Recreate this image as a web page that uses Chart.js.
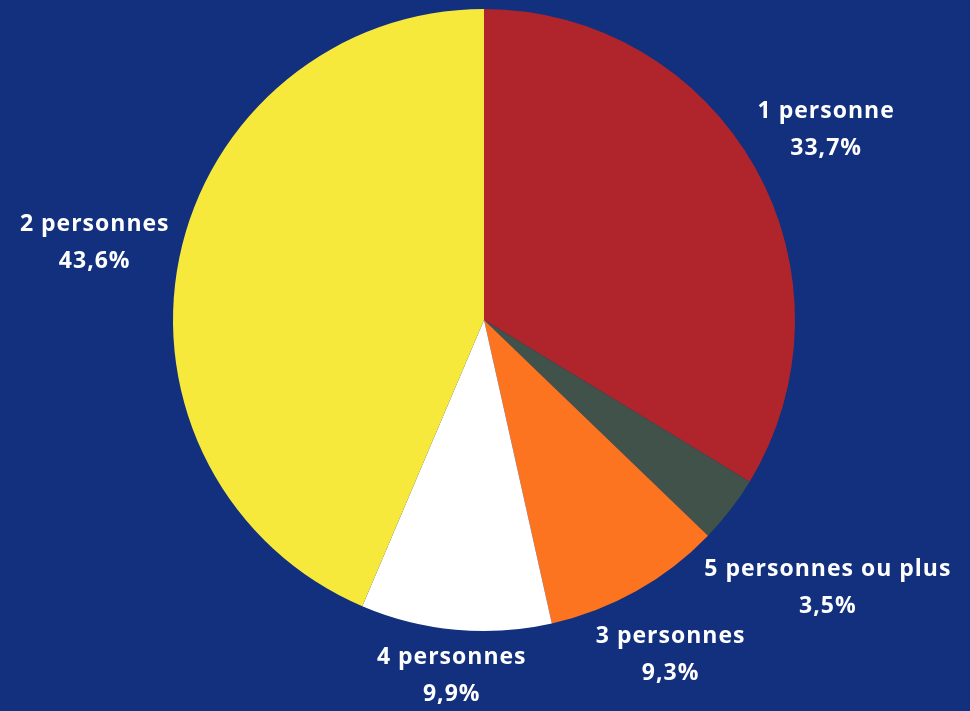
<!DOCTYPE html>
<html>
<head>
<meta charset="utf-8">
<script src="https://cdn.jsdelivr.net/npm/chart.js@4"></script>
<style>
  html, body { margin: 0; padding: 0; background: #12307e; }
  #wrap { width: 970px; height: 711px; position: relative; }
</style>
</head>
<body>
<div id="wrap"><canvas id="pieChart"></canvas></div>
<script>
const categories = ['1 personne', '5 personnes ou plus', '3 personnes', '4 personnes', '2 personnes'];
const shares = [33.7, 3.5, 9.3, 9.9, 43.6];
const colors = ['#b0252c', '#40524a', '#fc7420', '#ffffff', '#f7e93c'];

const fontFamily = '"Open Sans", Lato, sans-serif';

// labels outside each slice, pushed out along the slice's middle angle
const outsideLabels = {
    id: 'outsideLabels',
    afterDatasetsDraw(chart) {
        const ctx = chart.ctx;
        const meta = chart.getDatasetMeta(0);
        ctx.save();
        ctx.font = `bold 23px ${fontFamily}`;
        ctx.letterSpacing = '1px';
        ctx.fillStyle = '#ffffff';
        ctx.textAlign = 'center';
        ctx.textBaseline = 'middle';
        meta.data.forEach((arc, i) => {
            const {x, y, startAngle, endAngle, outerRadius} = arc.getProps(['x', 'y', 'startAngle', 'endAngle', 'outerRadius'], true);
            const mid = (startAngle + endAngle) / 2;
            const dx = Math.cos(mid), dy = Math.sin(mid);
            const line1 = categories[i];
            const line2 = shares[i].toFixed(1).replace('.', ',') + '%';
            const w = Math.max(ctx.measureText(line1).width, ctx.measureText(line2).width);
            const halfW = w / 2, halfH = 30;
            const dist = outerRadius + 7 + halfW * Math.abs(dx) + halfH * Math.abs(dy);
            const cx = x + dx * dist, cy = y + dy * dist;
            ctx.fillText(line1, cx, cy - 16);
            ctx.fillText(line2, cx, cy + 21);
        });
        ctx.restore();
    }
};

new Chart(document.getElementById('pieChart'), {
    type: 'pie',
    data: {
        labels: categories,
        datasets: [{
            data: shares,
            backgroundColor: colors,
            borderWidth: 0
        }]
    },
    options: {
        responsive: true,
        maintainAspectRatio: false,
        animation: false,
        layout: {padding: {top: 9, bottom: 80, left: 0, right: 2}},
        plugins: {
            legend: {display: false},
            tooltip: {enabled: false}
        }
    },
    plugins: [outsideLabels]
});
</script>
</body>
</html>
